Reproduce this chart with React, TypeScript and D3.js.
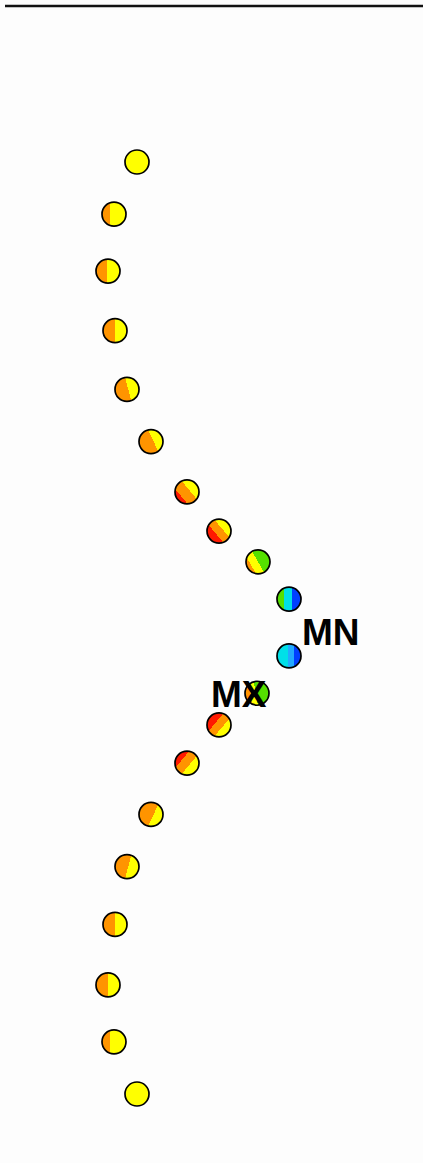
import React from "react";
import * as d3 from "d3";

// Sample positions along the profile (depth) and the lateral offset of each sample.
const depth = [0, 56, 117, 181, 244, 300, 354, 396, 429, 469, 530, 570, 604, 645, 700, 756, 818, 883, 944, 1000];
const offset = [1.85, 0.7, 0.4, 0.75, 1.35, 2.55, 4.35, 5.95, 7.9, 9.45, 9.45, 7.85, 5.95, 4.35, 2.55, 1.35, 0.75, 0.4, 0.7, 1.85];

// Field class bands crossing each sample: [class, band end as fraction of the diameter].
const classes = ["red", "orange", "yellow", "green", "cyan", "blue"];
const bands: [string, number][][] = [
  [["yellow", 1]],
  [["orange", 0.35], ["yellow", 1]],
  [["orange", 0.45], ["yellow", 1]],
  [["orange", 0.5], ["yellow", 1]],
  [["orange", 0.55], ["yellow", 1]],
  [["orange", 0.6], ["yellow", 1]],
  [["red", 0.2], ["orange", 0.62], ["yellow", 1]],
  [["red", 0.33], ["orange", 0.66], ["yellow", 1]],
  [["orange", 0.18], ["yellow", 0.5], ["green", 1]],
  [["green", 0.3], ["cyan", 0.62], ["blue", 1]],
  [["cyan", 0.45], ["lightblue", 0.7], ["blue", 1]],
  [["orange", 0.22], ["yellow", 0.45], ["green", 1]],
  [["red", 0.33], ["orange", 0.66], ["yellow", 1]],
  [["red", 0.25], ["orange", 0.62], ["yellow", 1]],
  [["orange", 0.6], ["yellow", 1]],
  [["orange", 0.55], ["yellow", 1]],
  [["orange", 0.5], ["yellow", 1]],
  [["orange", 0.5], ["yellow", 1]],
  [["orange", 0.35], ["yellow", 1]],
  [["yellow", 1]],
];
// Direction (degrees, counter-clockwise) in which the field increases across each sample.
const gradientAngle = [0, 0, 0, 0, 15, 25, 40, 40, 30, 0, 0, 10, -40, -40, -25, -15, 0, 0, 0, 0];

// Extreme markers.
const extremes = [
  { label: "MN", index: 10, dx: 13, dy: -11 },
  { label: "MX", index: 11, dx: -46, dy: 14 },
];

const W = 423;
const H = 1163;
const R = 12;

const color = d3
  .scaleOrdinal<string, string>()
  .domain([...classes, "lightblue"])
  .range(["#ff1a00", "#ff9400", "#ffff00", "#55e000", "#00e0e8", "#0040ff", "#22aaff"]);

export default function App() {
  const x = d3.scaleLinear().domain([0, 10]).range([100, 300]);
  const y = d3.scaleLinear().domain([0, 1000]).range([162, 1094]);

  const pts = depth.map((d, i) => ({
    i,
    cx: x(offset[i]),
    cy: y(d),
    bands: bands[i],
    angle: (gradientAngle[i] * Math.PI) / 180,
  }));

  return (
    <svg
      width={W}
      height={H}
      style={{ position: "absolute", left: 0, top: 0, background: "#fdfdfd" }}
    >
      <defs>
        {pts.map((p) => {
          const c = Math.cos(p.angle);
          const s = Math.sin(p.angle);
          const stops: { o: number; col: string }[] = [];
          let start = 0;
          p.bands.forEach(([k, end]) => {
            stops.push({ o: start, col: color(k) });
            stops.push({ o: end, col: color(k) });
            start = end;
          });
          return (
            <linearGradient
              key={p.i}
              id={`g${p.i}`}
              gradientUnits="userSpaceOnUse"
              x1={p.cx - R * c}
              y1={p.cy + R * s}
              x2={p.cx + R * c}
              y2={p.cy - R * s}
            >
              {stops.map((st, j) => (
                <stop key={j} offset={st.o} stopColor={st.col} />
              ))}
            </linearGradient>
          );
        })}
      </defs>
      <rect x={0} y={0} width={W} height={H} fill="#fdfdfd" />
      <line x1={5} x2={W} y1={6} y2={6} stroke="#111" strokeWidth={2.5} />
      {pts.map((p) => (
        <circle
          key={p.i}
          cx={p.cx}
          cy={p.cy}
          r={R}
          fill={`url(#g${p.i})`}
          stroke="#000"
          strokeWidth={1.7}
        />
      ))}
      {extremes.map((e) => (
        <text
          key={e.label}
          x={pts[e.index].cx + e.dx}
          y={pts[e.index].cy + e.dy}
          fontFamily="'Liberation Sans', Arial, sans-serif"
          fontWeight="bold"
          fontSize={37}
          fill="#000"
        >
          {e.label}
        </text>
      ))}
    </svg>
  );
}
